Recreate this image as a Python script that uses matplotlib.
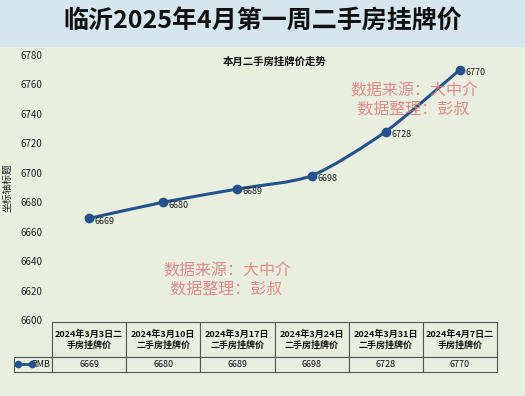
import matplotlib.pyplot as plt
from matplotlib.patches import Rectangle, PathPatch
from matplotlib.path import Path
import numpy as np

plt.rcParams['font.family'] = ['Noto Sans CJK SC', 'DejaVu Sans']

# --- dados ---
semanas = ['2024年3月3日二\n手房挂牌价', '2024年3月10日\n二手房挂牌价', '2024年3月17日\n二手房挂牌价',
           '2024年3月24日\n二手房挂牌价', '2024年3月31日\n二手房挂牌价', '2024年4月7日二\n手房挂牌价']
precos = [6669, 6680, 6689, 6698, 6728, 6770]
serie = 'RMB'
yticks = [6600, 6620, 6640, 6660, 6680, 6700, 6720, 6740, 6760, 6780]

cor_linha = '#24528c'
cor_fundo = '#eaeedf'
cor_marca = '#e07a7a'

fig = plt.figure(figsize=(5.25, 3.96), dpi=100)
fig.patch.set_facecolor(cor_fundo)

# faixa do título
fig.patches.append(Rectangle((0, 1 - 47 / 396), 1, 47 / 396, transform=fig.transFigure,
                             facecolor='#d5e6ee', edgecolor='none', zorder=0))
fig.text(0.5, 1 - 22 / 396, '临沂2025年4月第一周二手房挂牌价', ha='center', va='center',
         fontsize=18, fontweight='bold', color='#111111')

ax = fig.add_axes([52 / 525, 1 - 320 / 396, 445 / 525, 265 / 396])
ax.set_facecolor(cor_fundo)
x = np.arange(len(precos))

# linha suavizada (Catmull-Rom -> Bezier)
pts = np.column_stack([x, precos]).astype(float)
verts = [tuple(pts[0])]
codes = [Path.MOVETO]
for i in range(len(pts) - 1):
    p0 = pts[i - 1] if i > 0 else pts[i]
    p1, p2 = pts[i], pts[i + 1]
    p3 = pts[i + 2] if i + 2 < len(pts) else pts[i + 1]
    c1 = p1 + (p2 - p0) / 8
    c2 = p2 - (p3 - p1) / 8
    verts += [tuple(c1), tuple(c2), tuple(p2)]
    codes += [Path.CURVE4] * 3
ax.add_patch(PathPatch(Path(verts, codes), facecolor='none', edgecolor=cor_linha, lw=2.2, zorder=3))
ax.plot(x, precos, 'o', color=cor_linha, markersize=6, zorder=4)

for xi, v in zip(x, precos):
    ax.annotate(str(v), (xi, v), xytext=(4, -2), textcoords='offset points',
                ha='left', va='center', fontsize=6.5, color='#222222', zorder=5)

ax.set_xlim(-0.5, len(precos) - 0.5)
ax.set_ylim(6600, 6780)
ax.set_yticks(yticks)
ax.set_yticklabels([str(t) for t in yticks], fontsize=7, color='#222222')
ax.set_xticks([])
ax.tick_params(axis='y', length=0, pad=7)
for s in ax.spines.values():
    s.set_visible(False)
ax.set_ylabel('坐标轴标题', fontsize=7, color='#222222', labelpad=6)

ax.text(0.5, 0.975, '本月二手房挂牌价走势', transform=ax.transAxes, ha='center', va='center',
        fontsize=7.5, fontweight='bold', color='#111111')

# marcas d'água
ax.text(0.67, 0.83, '数据来源：大中介\n  数据整理：彭叔', transform=ax.transAxes, ha='left',
        va='center', fontsize=11.5, color=cor_marca, alpha=0.85, linespacing=1.05, zorder=6)
ax.text(0.25, 0.15, '数据来源：大中介\n  数据整理：彭叔', transform=ax.transAxes, ha='left',
        va='center', fontsize=11.5, color=cor_marca, alpha=0.85, linespacing=1.05, zorder=6)

# tabela de dados
larg_rot = 38 / 445
col_w = [larg_rot] + [1 / 6] * 6
tab = ax.table(cellText=[[''] + semanas, [serie] + [str(v) for v in precos]],
               colWidths=col_w, bbox=[-larg_rot, -52 / 265, 1 + larg_rot, 50 / 265],
               cellLoc='center')
tab.auto_set_font_size(False)
for (r, c), cell in tab.get_celld().items():
    cell.set_facecolor(cor_fundo)
    cell.set_edgecolor('#555555')
    cell.set_linewidth(0.8)
    txt = cell.get_text()
    txt.set_fontsize(6.5)
    txt.set_color('#111111')
    if r == 0:
        txt.set_fontweight('bold')
        if c == 0:
            cell.visible_edges = ''
    else:
        if c == 0:
            txt.set_ha('right')
            cell.PAD = 0.05
# altura das linhas
for c in range(7):
    tab[0, c].set_height(35)
    tab[1, c].set_height(15)

# marcador da legenda
ax.plot([-34 / 445, -20 / 445], [-44 / 265, -44 / 265], color=cor_linha, lw=2,
        marker='o', markersize=4.5, transform=ax.transAxes, clip_on=False, zorder=7)

fig.savefig('out.png', dpi=100, facecolor=fig.get_facecolor())
